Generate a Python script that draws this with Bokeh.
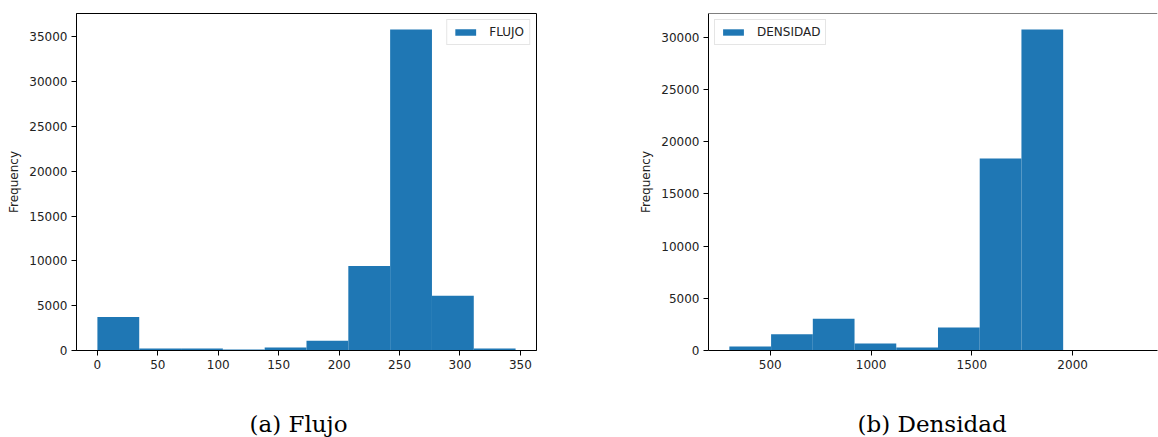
import numpy as np
from bokeh.plotting import figure
from bokeh.layouts import row
from bokeh.models import Span, FixedTicker, Range1d, Title
from bokeh.embed import file_html
from bokeh.resources import INLINE

# ---- data ----
flujo_counts = [3750, 220, 220, 110, 330, 1075, 9420, 35800, 6110, 220]
flujo_min, flujo_max = 0.0, 346.0
flujo_xticks = [0, 50, 100, 150, 200, 250, 300, 350]
flujo_yticks = [0, 5000, 10000, 15000, 20000, 25000, 30000, 35000]

densidad_counts = [380, 1560, 3040, 670, 290, 2190, 18380, 30720, 0, 2]
densidad_min, densidad_max = 297.0, 2367.0
densidad_xticks = [500, 1000, 1500, 2000]
densidad_yticks = [0, 5000, 10000, 15000, 20000, 25000, 30000]

BLUE = "#1f77b4"
TXT = "#222222"
SANS = "DejaVu Sans"
SERIF = "DejaVu Serif"


def make_hist(counts, vmin, vmax, name, caption, xticks, yticks,
              border_left, frame_w, border_right, x_end, legend_loc,
              cap_offset, full_outline):
    edges = np.linspace(vmin, vmax, len(counts) + 1)
    span = vmax - vmin
    x_start = vmin - 0.05 * span
    if x_end is None:
        x_end = vmax + 0.05 * span
    y_end = max(counts) * 1.05

    p = figure(frame_width=frame_w, frame_height=337,
               min_border_left=border_left, min_border_right=border_right,
               min_border_top=13, min_border_bottom=87,
               x_range=Range1d(x_start, x_end), y_range=Range1d(0, y_end),
               output_backend="svg", toolbar_location=None,
               background_fill_color="white", border_fill_color="white")
    p.quad(left=edges[:-1], right=edges[1:], bottom=0, top=counts,
           fill_color=BLUE, line_color=None, legend_label=name)

    p.grid.visible = False
    if full_outline:
        p.outline_line_color = "black"
        p.outline_line_width = 1
    else:
        p.outline_line_color = None
        p.add_layout(Span(location=y_end, dimension="width",
                          line_color="black", line_width=1))

    for ax in (p.xaxis[0], p.yaxis[0]):
        ax.axis_line_color = "black"
        ax.axis_line_width = 1
        ax.major_tick_line_color = "black"
        ax.major_tick_out = 5
        ax.major_tick_in = 0
        ax.minor_tick_line_color = None
        ax.major_label_text_font = SANS
        ax.major_label_text_font_size = "12px"
        ax.major_label_text_color = TXT
        ax.major_label_standoff = 4
    p.xaxis.ticker = FixedTicker(ticks=xticks)
    p.yaxis.ticker = FixedTicker(ticks=yticks)
    p.yaxis.axis_label = "Frequency"
    p.yaxis.axis_label_text_font = SANS
    p.yaxis.axis_label_text_font_size = "12px"
    p.yaxis.axis_label_text_font_style = "normal"
    p.yaxis.axis_label_text_color = TXT
    p.yaxis.axis_label_standoff = 5

    lg = p.legend[0]
    lg.location = legend_loc
    lg.margin = 6
    lg.padding = 5
    lg.spacing = 0
    lg.glyph_width = 26
    lg.glyph_height = 8
    lg.label_standoff = 11
    lg.label_height = 14
    lg.label_text_font = SANS
    lg.label_text_font_size = "12px"
    lg.label_text_color = TXT
    lg.border_line_color = "#cccccc"
    lg.border_line_width = 1
    lg.background_fill_color = "white"
    lg.background_fill_alpha = 0.8

    p.add_layout(Title(text=caption, align="left", offset=cap_offset,
                       standoff=75, text_font=SERIF, text_font_size="23px",
                       text_font_style="normal", text_color="black"), "below")
    return p


p1 = make_hist(flujo_counts, flujo_min, flujo_max, "FLUJO", "(a) Flujo",
               flujo_xticks, flujo_yticks, 76, 460, 44, None, "top_right",
               173, True)
p2 = make_hist(densidad_counts, densidad_min, densidad_max, "DENSIDAD",
               "(b) Densidad", densidad_xticks, densidad_yticks, 128, 449, 1,
               2421, "top_left", 149, False)

layout = row(p1, p2)
open("out.html", "w").write(file_html(layout, INLINE))
